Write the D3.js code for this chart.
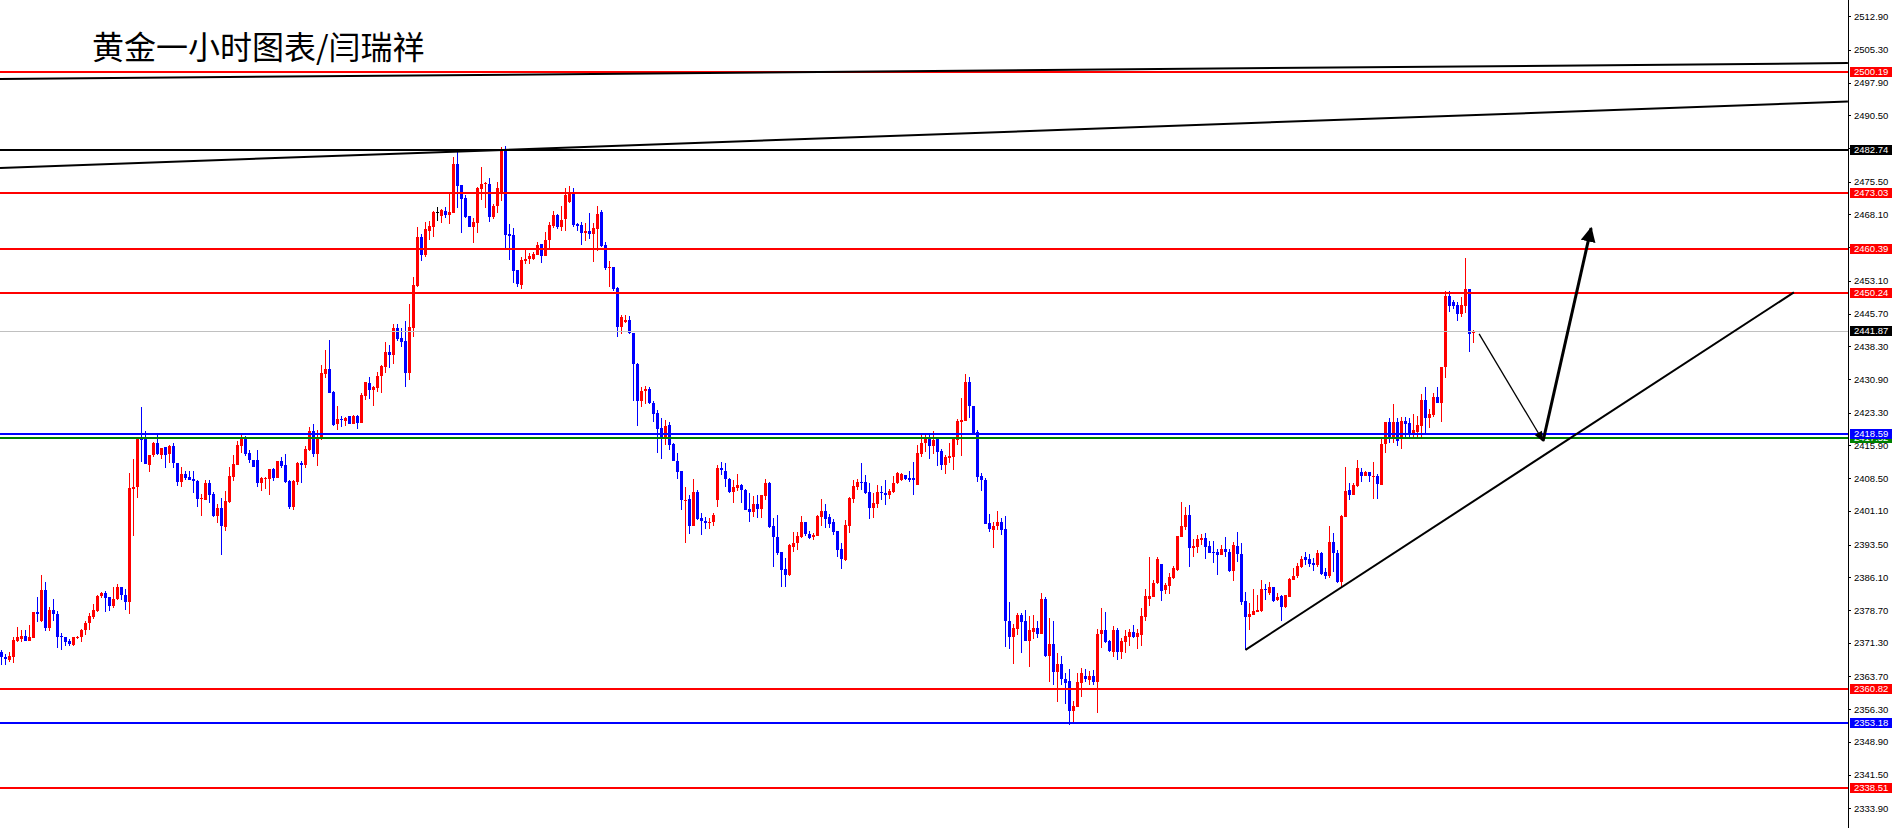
<!DOCTYPE html>
<html><head><meta charset="utf-8">
<script src="https://cdn.jsdelivr.net/npm/d3@7"></script>
<style>
html,body{margin:0;padding:0;background:#fff;overflow:hidden}
svg{display:block}
</style></head><body>
<svg id="chart" width="1892" height="828"></svg>
<script>
const title = "黄金一小时图表/闫瑞祥";

const opens = [
2369.2,2368.2,2367.5,2368.2,2371.8,2372.2,2372.9,2371.6,2372.3,2378.3,
2376.2,2383.3,2374.7,2378.8,2377.8,2372.9,2372.6,2371.6,2370.9,2372.3,
2372.7,2374.1,2375.7,2377.2,2378.5,2381.8,2382.6,2381.7,2379.6,2381.2,
2383.9,2382.1,2380.6,2406.1,2406.5,2417.7,2417.3,2411.4,2413.7,2416.5,
2413.8,2415.5,2413.9,2415.8,2411.9,2407.7,2409.5,2408.8,2408.4,2407.8,
2403.8,2403.6,2407.4,2404.9,2400.0,2401.8,2397.5,2403.2,2408.8,2411.5,
2415.8,2417.8,2414.3,2412.7,2412.6,2407.4,2408.4,2408.4,2410.6,2408.6,
2412.4,2411.5,2407.9,2402.0,2407.7,2411.9,2411.5,2414.9,2419.2,2414.0,
2417.6,2432.1,2433.2,2428.0,2420.7,2421.9,2421.5,2422.5,2420.8,2422.6,
2420.9,2427.1,2430.0,2428.5,2428.9,2431.6,2433.7,2437.0,2436.4,2442.4,
2440.2,2439.5,2432.3,2442.4,2451.9,2463.1,2459.0,2464.4,2465.3,2468.6,
2467.8,2468.9,2468.0,2468.4,2479.5,2474.7,2471.9,2467.7,2465.3,2466.1,
2473.8,2474.9,2475.0,2467.6,2469.9,2473.1,2482.6,2463.7,2463.5,2455.5,
2452.2,2457.6,2458.0,2458.0,2459.0,2461.4,2458.6,2462.3,2465.5,2468.0,
2465.2,2467.0,2471.0,2472.9,2466.0,2465.7,2464.0,2464.3,2463.7,2464.9,
2468.7,2461.1,2456.0,2456.2,2451.4,2442.7,2443.8,2444.3,2441.3,2434.3,
2426.0,2428.1,2428.6,2425.6,2423.2,2419.9,2417.9,2420.5,2416.2,2412.4,
2410.2,2403.5,2403.8,2397.8,2405.4,2399.5,2398.9,2398.3,2398.5,2403.5,
2410.7,2410.2,2408.3,2405.4,2406.2,2406.9,2405.8,2401.5,2400.9,2402.7,
2401.5,2404.5,2407.5,2397.7,2395.2,2391.8,2388.0,2386.6,2393.0,2393.8,
2395.3,2398.6,2395.9,2395.1,2395.4,2399.8,2401.1,2399.7,2398.5,2396.6,
2392.5,2390.0,2397.8,2403.9,2406.6,2407.7,2407.6,2405.4,2401.8,2402.7,
2405.4,2405.2,2404.8,2405.4,2407.3,2408.2,2409.3,2408.5,2408.5,2407.0,
2414.0,2416.4,2417.7,2415.8,2417.3,2414.7,2411.5,2413.1,2413.3,2417.1,
2421.2,2421.4,2430.2,2424.8,2419.0,2409.1,2408.2,2398.4,2396.8,2397.7,
2398.6,2397.0,2376.2,2372.5,2374.4,2377.6,2376.3,2371.8,2373.8,2374.7,
2373.3,2381.2,2368.4,2371.0,2364.8,2366.5,2363.2,2362.7,2356.0,2356.9,
2362.3,2363.8,2362.9,2363.8,2362.5,2373.3,2374.2,2371.7,2369.3,2374.2,
2369.3,2371.4,2372.7,2373.8,2372.7,2373.0,2377.2,2381.2,2381.7,2384.9,
2389.1,2383.2,2384.1,2386.0,2387.7,2395.3,2397.5,2400.2,2392.7,2393.0,
2394.5,2394.9,2393.2,2391.8,2391.8,2391.2,2392.4,2391.9,2387.6,2393.2,
2391.4,2380.7,2377.1,2377.6,2378.3,2378.5,2383.5,2382.6,2384.0,2381.0,
2381.9,2379.5,2381.7,2385.5,2386.3,2388.5,2390.8,2390.2,2389.4,2388.9,
2391.7,2387.2,2386.3,2394.0,2391.5,2385.1,2399.7,2405.8,2404.8,2406.8,
2410.0,2409.1,2410.0,2408.8,2409.0,2407.0,2416.2,2421.1,2417.5,2421.3,
2417.5,2421.4,2420.9,2418.3,2419.0,2420.3,2426.2,2422.0,2422.8,2426.9,
2425.4,2433.7,2449.7,2448.3,2447.6,2445.6,2447.4,2451.2,2441.3];

const highs = [
2369.7,2368.8,2369.3,2372.6,2374.8,2374.1,2374.2,2375.3,2378.3,2381.7,
2386.7,2385.0,2379.5,2381.2,2378.5,2373.5,2372.6,2372.1,2372.7,2372.9,
2374.5,2376.2,2378.0,2380.1,2382.1,2382.8,2383.1,2381.7,2384.0,2384.7,
2384.0,2383.4,2409.6,2412.8,2417.7,2424.6,2419.1,2413.8,2416.7,2418.6,
2415.3,2415.6,2416.0,2416.4,2411.9,2411.0,2410.2,2410.2,2410.2,2408.1,
2405.0,2408.1,2408.2,2405.3,2402.6,2404.1,2405.6,2411.1,2413.7,2416.9,
2418.3,2418.1,2414.8,2412.7,2414.9,2408.8,2408.8,2410.6,2410.9,2412.4,
2413.4,2414.0,2408.2,2408.0,2412.2,2412.4,2415.8,2420.1,2420.7,2419.4,
2434.1,2437.4,2439.7,2428.2,2424.8,2422.5,2422.4,2422.5,2422.8,2422.8,
2427.7,2430.3,2431.3,2429.3,2432.6,2434.0,2439.3,2438.6,2443.3,2443.3,
2442.4,2444.0,2447.9,2454.0,2465.2,2463.7,2466.4,2466.6,2468.9,2469.8,
2469.3,2469.8,2473.0,2481.1,2482.3,2474.7,2472.6,2467.7,2467.4,2474.2,
2478.8,2475.5,2476.3,2470.4,2475.4,2483.4,2483.6,2465.9,2465.0,2455.5,
2458.4,2460.4,2459.5,2459.6,2461.9,2461.4,2464.1,2466.5,2468.9,2468.2,
2470.0,2474.0,2474.6,2474.0,2466.2,2466.4,2466.1,2468.5,2466.1,2469.9,
2469.1,2461.9,2457.5,2456.3,2451.6,2445.4,2445.4,2445.2,2441.3,2434.5,
2429.0,2429.4,2429.0,2426.0,2423.8,2422.1,2421.7,2421.1,2416.4,2414.3,
2410.2,2406.5,2404.7,2408.3,2405.8,2400.6,2399.8,2399.6,2400.6,2411.5,
2412.1,2411.9,2408.5,2408.1,2409.4,2407.1,2406.0,2405.1,2404.5,2404.7,
2404.7,2408.3,2407.6,2399.4,2400.2,2391.8,2390.5,2393.6,2396.3,2396.3,
2400.0,2398.6,2396.6,2396.0,2400.2,2403.8,2402.6,2400.5,2399.2,2396.6,
2393.8,2399.1,2404.3,2408.1,2408.3,2411.9,2409.2,2407.5,2405.2,2407.0,
2406.7,2408.1,2406.0,2409.0,2409.9,2409.7,2409.3,2410.1,2412.2,2416.0,
2418.3,2418.2,2418.2,2419.2,2417.3,2415.2,2413.7,2416.5,2417.6,2421.9,
2426.7,2432.1,2431.4,2424.8,2419.4,2409.6,2408.5,2400.5,2398.6,2401.1,
2399.5,2400.0,2380.6,2375.6,2378.0,2378.1,2378.7,2377.4,2377.5,2376.2,
2382.6,2381.7,2377.0,2376.2,2369.1,2368.3,2364.4,2365.4,2358.2,2364.4,
2365.5,2365.4,2364.9,2365.2,2374.4,2379.1,2378.2,2371.9,2375.1,2374.6,
2372.3,2374.2,2374.4,2375.3,2374.5,2379.1,2383.4,2390.6,2385.5,2390.6,
2389.1,2384.9,2387.1,2388.7,2395.4,2403.1,2402.1,2402.4,2394.7,2395.7,
2395.9,2396.0,2394.3,2394.3,2392.6,2393.4,2395.1,2392.6,2394.1,2396.4,
2393.9,2382.7,2380.2,2383.4,2382.1,2385.4,2384.7,2385.1,2384.0,2382.5,
2382.1,2382.1,2386.0,2388.1,2389.3,2390.9,2391.9,2391.3,2390.4,2392.3,
2391.9,2388.1,2397.7,2396.2,2392.3,2400.2,2411.0,2407.4,2407.4,2412.6,
2410.8,2410.2,2410.0,2412.2,2409.5,2417.9,2421.3,2422.0,2425.3,2422.0,
2422.4,2422.4,2422.0,2423.0,2422.6,2427.5,2429.0,2424.1,2427.7,2429.2,
2433.7,2450.7,2450.7,2448.8,2448.4,2449.5,2458.3,2451.2,2441.9];

const lows = [
2366.2,2366.3,2366.9,2366.8,2371.4,2371.4,2371.6,2371.6,2372.3,2376.0,
2376.0,2373.9,2373.9,2376.2,2370.2,2369.7,2370.6,2370.6,2370.6,2372.1,
2371.4,2373.0,2374.2,2376.7,2378.3,2381.4,2378.3,2378.5,2379.2,2381.0,
2381.0,2378.7,2377.7,2395.5,2404.0,2412.2,2411.6,2409.8,2413.2,2413.7,
2412.8,2410.9,2411.9,2410.9,2406.7,2406.6,2408.2,2408.1,2405.2,2402.0,
2399.9,2403.6,2403.0,2399.8,2398.3,2391.2,2396.6,2403.0,2407.9,2411.5,
2414.2,2413.5,2412.0,2411.1,2406.5,2405.5,2406.1,2404.8,2407.9,2408.5,
2410.7,2407.5,2401.6,2401.2,2406.9,2407.5,2410.9,2414.7,2413.4,2411.3,
2417.1,2431.2,2427.7,2420.4,2419.5,2420.1,2420.3,2420.7,2420.7,2419.6,
2420.9,2426.1,2426.5,2424.9,2427.9,2427.8,2432.3,2433.5,2434.4,2439.5,
2438.1,2429.2,2430.7,2440.5,2451.7,2457.6,2458.5,2462.3,2462.9,2466.6,
2466.1,2467.3,2465.9,2468.4,2469.5,2463.9,2467.2,2465.2,2461.6,2463.9,
2471.3,2469.5,2466.5,2467.1,2468.5,2471.2,2460.6,2457.8,2452.7,2451.8,
2451.2,2456.9,2457.0,2457.7,2458.9,2457.2,2458.6,2460.2,2465.1,2464.9,
2464.4,2464.4,2470.6,2465.3,2464.4,2461.3,2462.0,2462.5,2457.4,2459.9,
2460.8,2455.6,2451.6,2450.9,2440.3,2441.1,2443.5,2441.1,2426.0,2420.4,
2424.5,2425.3,2425.2,2421.1,2414.3,2412.8,2416.0,2414.9,2412.3,2408.3,
2401.3,2393.8,2395.8,2397.6,2399.1,2395.6,2397.0,2397.0,2397.6,2402.0,
2409.2,2406.6,2405.1,2403.0,2405.7,2403.0,2401.2,2398.6,2399.7,2399.6,
2399.6,2403.6,2397.3,2388.5,2391.1,2383.8,2384.0,2386.4,2391.8,2392.3,
2394.9,2395.5,2394.8,2394.5,2395.4,2397.8,2397.3,2397.2,2395.6,2390.6,
2388.0,2389.8,2396.2,2403.0,2405.8,2405.8,2404.9,2399.3,2399.6,2401.8,
2403.6,2402.5,2403.7,2405.2,2407.2,2407.9,2408.2,2407.6,2404.7,2407.0,
2413.4,2414.4,2412.8,2414.0,2411.3,2410.4,2409.5,2412.0,2410.4,2416.0,
2413.5,2421.4,2422.0,2418.3,2407.6,2405.5,2398.2,2396.3,2392.8,2396.8,
2395.7,2370.4,2369.8,2366.5,2373.0,2368.9,2371.6,2365.8,2372.2,2372.3,
2373.3,2368.2,2362.5,2361.8,2357.9,2361.8,2357.4,2352.8,2353.5,2356.7,
2359.1,2362.5,2361.8,2361.8,2355.5,2370.1,2371.2,2369.3,2368.0,2367.4,
2367.6,2369.1,2370.6,2372.3,2370.0,2370.6,2376.2,2379.6,2381.7,2384.6,
2380.8,2382.3,2382.3,2385.7,2387.6,2395.1,2396.9,2388.5,2390.6,2391.5,
2393.4,2390.2,2391.5,2389.3,2386.6,2391.1,2390.8,2387.4,2385.3,2389.6,
2379.8,2369.7,2374.3,2377.5,2378.3,2378.3,2381.0,2382.1,2380.5,2380.8,
2376.3,2379.1,2381.6,2385.5,2385.9,2388.1,2388.9,2388.4,2387.6,2388.5,
2386.6,2385.7,2385.9,2387.4,2384.9,2383.6,2399.7,2403.6,2404.7,2406.6,
2407.7,2408.9,2407.7,2403.8,2403.9,2407.0,2414.1,2416.4,2416.4,2415.8,
2415.1,2417.5,2417.5,2417.9,2417.7,2417.5,2418.8,2419.8,2422.4,2425.4,
2421.3,2431.1,2446.1,2446.7,2444.1,2445.0,2445.8,2437.1,2439.1];

const closes = [
2368.0,2367.6,2368.3,2372.0,2372.6,2372.9,2371.8,2372.5,2378.3,2377.7,
2383.3,2374.7,2378.8,2377.7,2372.7,2372.5,2371.4,2371.1,2372.7,2372.7,
2374.2,2375.7,2377.3,2378.8,2381.9,2382.6,2381.5,2379.7,2381.2,2383.9,
2382.1,2380.5,2406.3,2406.4,2417.7,2417.1,2411.6,2413.8,2416.5,2414.0,
2415.3,2413.7,2415.8,2411.9,2407.7,2409.5,2408.5,2408.2,2407.8,2403.8,
2404.1,2407.4,2404.7,2400.0,2401.7,2397.8,2403.3,2409.0,2411.7,2416.0,
2417.8,2414.0,2412.6,2411.1,2407.4,2408.5,2408.6,2410.6,2408.6,2412.4,
2411.3,2407.6,2402.0,2407.8,2411.9,2411.5,2415.1,2419.2,2414.0,2417.5,
2432.2,2433.2,2427.8,2420.6,2421.9,2421.6,2422.2,2420.8,2422.6,2420.9,
2427.3,2430.2,2428.5,2429.1,2431.7,2433.8,2437.0,2436.4,2442.4,2439.9,
2439.3,2432.3,2442.6,2452.1,2463.1,2459.0,2464.7,2465.5,2468.6,2468.6,
2469.1,2468.0,2468.6,2479.5,2474.5,2471.6,2467.5,2465.2,2466.4,2474.1,
2475.0,2475.1,2467.6,2470.0,2474.0,2482.6,2463.5,2463.2,2455.4,2452.4,
2457.8,2458.1,2458.6,2459.1,2461.1,2458.6,2462.3,2465.7,2467.9,2465.2,
2466.9,2472.5,2472.9,2465.7,2465.5,2464.0,2464.3,2463.7,2465.0,2468.3,
2461.0,2455.9,2456.2,2451.2,2442.7,2444.9,2444.3,2441.3,2434.2,2426.0,
2428.3,2428.6,2425.4,2423.0,2419.7,2417.9,2420.3,2415.9,2412.3,2410.0,
2403.5,2403.6,2397.8,2405.4,2399.2,2398.9,2398.3,2398.7,2400.2,2410.8,
2410.4,2408.3,2405.3,2406.5,2407.0,2405.8,2401.3,2400.9,2402.7,2401.5,
2404.7,2407.3,2397.5,2395.1,2391.5,2387.8,2386.6,2393.4,2393.9,2395.4,
2398.6,2395.9,2394.9,2395.6,2400.0,2401.1,2399.3,2398.2,2396.3,2392.3,
2390.2,2397.9,2404.0,2406.7,2407.7,2407.4,2405.2,2401.8,2402.8,2405.4,
2405.2,2404.8,2405.6,2407.3,2409.6,2409.4,2408.3,2408.1,2408.1,2414.1,
2416.4,2417.9,2415.8,2417.1,2414.5,2411.5,2413.3,2413.5,2417.3,2421.5,
2421.6,2430.2,2424.7,2418.8,2408.8,2408.1,2398.2,2397.0,2397.8,2398.6,
2396.8,2376.3,2372.5,2374.7,2377.6,2376.1,2371.8,2374.1,2374.7,2373.3,
2381.2,2368.3,2371.0,2364.8,2366.5,2363.1,2362.3,2356.0,2357.0,2362.5,
2364.4,2363.1,2363.8,2362.5,2373.3,2374.2,2371.4,2369.5,2374.2,2369.3,
2371.6,2372.9,2373.8,2372.7,2373.6,2377.4,2381.9,2381.9,2384.9,2390.2,
2383.1,2384.3,2386.1,2388.3,2395.4,2397.7,2400.2,2392.7,2393.2,2394.7,
2394.9,2393.0,2391.7,2391.7,2391.2,2392.4,2391.8,2387.6,2393.4,2391.4,
2380.5,2377.1,2377.8,2378.5,2378.7,2383.5,2383.2,2383.8,2380.8,2381.7,
2379.5,2382.0,2385.8,2386.4,2388.7,2390.2,2390.0,2389.1,2388.9,2391.7,
2386.9,2386.3,2394.0,2391.5,2385.0,2400.0,2405.7,2404.7,2406.9,2410.8,
2409.1,2410.0,2408.9,2409.0,2407.2,2416.2,2421.1,2417.5,2421.3,2417.0,
2421.4,2420.8,2418.3,2419.4,2420.5,2426.2,2422.0,2423.0,2426.9,2425.6,
2433.7,2449.7,2447.3,2447.4,2445.6,2447.6,2451.2,2441.1,2441.87];

const tickValues = [2512.90,2505.30,2497.90,2490.50,2483.10,2475.50,2468.10,2460.70,2453.10,
  2445.70,2438.30,2430.90,2423.30,2415.90,2408.50,2401.10,2393.50,2386.10,2378.70,2371.30,
  2363.70,2356.30,2348.90,2341.50,2333.90];

const levelPrices = [2500.19, 2482.74, 2473.03, 2460.39, 2450.24, 2418.59, 2417.52, 2360.82, 2353.18, 2338.51];
const levelKinds  = ["r","k","r","r","r","b","g","r","b","r"];
const lastPrice = 2441.87;

// trend lines: [startIndex, startPrice, endIndex, endPrice]
const trendLines = [
  [-0.375, 2498.7, 461.6, 2502.3],
  [-0.375, 2478.6, 461.6, 2493.6],
  [311.0, 2369.7, 448.1, 2450.5]
];
// projected path: thin leg then bold leg
const arrowThin = [[369.4, 2441.1], [385.4, 2416.9]];
const arrowBold = [[385.4, 2416.9], [397.4, 2465.0]];

// ---------- drawing ----------
const W = 1892, H = 828, axisX = 1848;
const kindColor = {r:"#ff0000", k:"#000000", b:"#0000ff", g:"#008000"};
const svg = d3.select("#chart");
const x = d3.scaleLinear().domain([0, 368]).range([1.5, 1473.5]);
const y = d3.scaleLinear().domain([2512.9, 2333.9]).range([16.2, 808.3]);

const data = opens.map((o,i)=>({i, o, h:highs[i], l:lows[i], c:closes[i]}));
const colOf = d => d.c > d.o ? "#ff0000" : (d.c < d.o ? "#0000ff" : "#000000");

const gC = svg.append("g").attr("shape-rendering","crispEdges");
gC.selectAll("rect.w").data(data).join("rect").attr("class","w")
  .attr("x", d => Math.round(x(d.i) - 0.5))
  .attr("width", 1)
  .attr("y", d => Math.round(y(d.h)))
  .attr("height", d => Math.max(1, Math.round(y(d.l)) - Math.round(y(d.h))))
  .attr("fill", colOf);
gC.selectAll("rect.b").data(data).join("rect").attr("class","b")
  .attr("x", d => Math.round(x(d.i) - 1.5))
  .attr("width", 3)
  .attr("y", d => Math.round(y(Math.max(d.o,d.c))))
  .attr("height", d => Math.max(1, Math.round(y(Math.min(d.o,d.c))) - Math.round(y(Math.max(d.o,d.c)))))
  .attr("fill", colOf);

// current price line
svg.append("line").attr("x1",0).attr("x2",axisX).attr("y1",Math.round(y(lastPrice))+0.5).attr("y2",Math.round(y(lastPrice))+0.5)
  .attr("stroke","#c0c0c0").attr("stroke-width",1);

// horizontal levels
svg.append("g").selectAll("line").data(levelPrices).join("line")
  .attr("x1",0).attr("x2",axisX)
  .attr("y1",d=>Math.round(y(d))).attr("y2",d=>Math.round(y(d)))
  .attr("stroke",(d,i)=>kindColor[levelKinds[i]]).attr("stroke-width",2);

// trend lines
const tl = svg.append("g");
trendLines.forEach(t=>{
  tl.append("line").attr("x1",x(t[0])).attr("y1",y(t[1])).attr("x2",x(t[2])).attr("y2",y(t[3]))
    .attr("stroke","#000").attr("stroke-width",2);
});

// arrows
const defs = svg.append("defs");
defs.append("marker").attr("id","ah").attr("viewBox","0 0 10 10").attr("refX",9).attr("refY",5)
  .attr("markerWidth",5).attr("markerHeight",5).attr("orient","auto")
  .append("path").attr("d","M0,0 L10,5 L0,10 z").attr("fill","#000");
defs.append("marker").attr("id","ah2").attr("viewBox","0 0 10 10").attr("refX",9).attr("refY",5)
  .attr("markerWidth",10).attr("markerHeight",8).attr("orient","auto")
  .append("path").attr("d","M0,1 L10,5 L0,9 z").attr("fill","#000");
const lineGen = d3.line().x(d=>x(d[0])).y(d=>y(d[1]));
svg.append("path").attr("d",lineGen(arrowThin)).attr("stroke","#000").attr("stroke-width",1.3)
  .attr("fill","none").attr("marker-end","url(#ah2)");
svg.append("path").attr("d",lineGen(arrowBold)).attr("stroke","#000").attr("stroke-width",3)
  .attr("fill","none").attr("marker-end","url(#ah)");

// right axis
svg.append("line").attr("x1",axisX+0.5).attr("x2",axisX+0.5).attr("y1",0).attr("y2",H)
  .attr("stroke","#000").attr("stroke-width",1);
const ax = svg.append("g").attr("transform",`translate(${axisX},0)`)
  .call(d3.axisRight(y).tickValues(tickValues).tickSize(3).tickPadding(3).tickFormat(d3.format(".2f")));
ax.select(".domain").remove();
ax.selectAll("text").attr("font-family","Liberation Sans, Arial, sans-serif").attr("font-size","9.5px").attr("fill","#000");
ax.selectAll("line").attr("stroke","#000").attr("shape-rendering","crispEdges");

// level labels (drawn from lowest price upward so the blue 2418.59 box sits over the green one)
const labels = levelPrices.map((p,i)=>({p, col:kindColor[levelKinds[i]]}))
  .sort((a,b)=>a.p-b.p)
  .concat([{p:lastPrice, col:"#000000"}]);
const lg = svg.append("g");
labels.forEach(d=>{
  const yy = Math.round(y(d.p));
  lg.append("rect").attr("x",axisX+2).attr("y",yy-5).attr("width",W-axisX-2).attr("height",10)
    .attr("fill",d.col).attr("shape-rendering","crispEdges");
  lg.append("text").attr("x",axisX+6).attr("y",yy).attr("dy","0.35em")
    .attr("font-family","Liberation Sans, Arial, sans-serif").attr("font-size","9.5px").attr("fill","#fff")
    .text(d3.format(".2f")(d.p));
});

// title
svg.append("text").attr("x",92).attr("y",59)
  .attr("font-family","Noto Sans CJK SC, sans-serif").attr("font-size","32px").attr("fill","#000")
  .text(title);
</script>
</body></html>
